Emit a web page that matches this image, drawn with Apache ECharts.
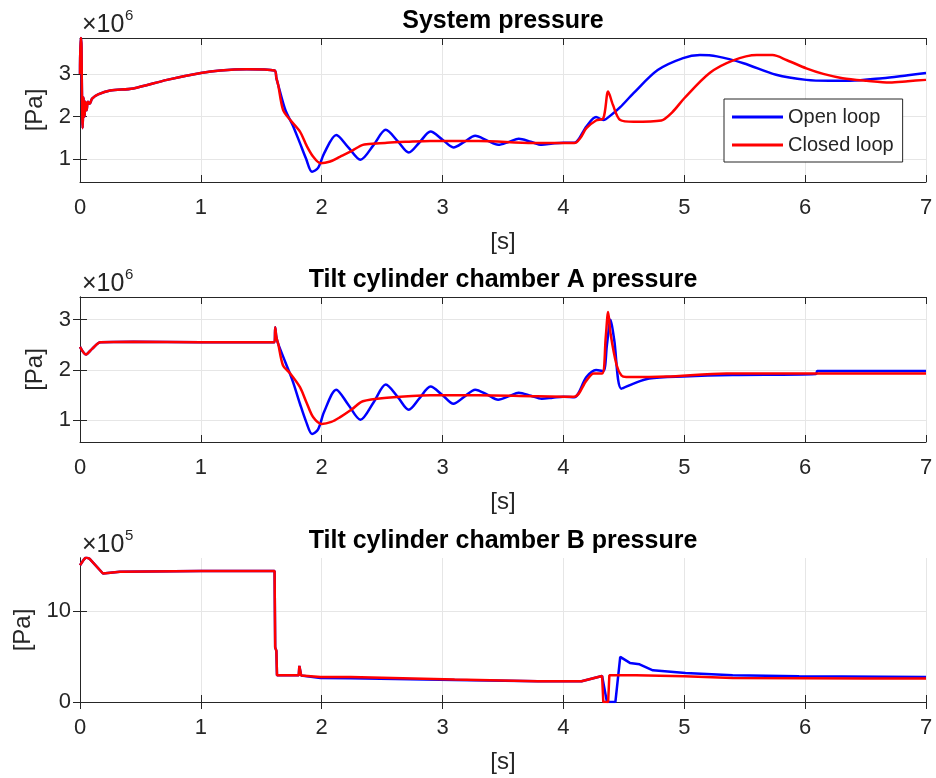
<!DOCTYPE html>
<html lang="en">
  <head>
    <meta charset="UTF-8" />
    <title>Open loop vs closed loop pressures</title>
    <script src="https://cdn.jsdelivr.net/npm/echarts@6.0.0/dist/echarts.min.js"></script>
    <style>
      html, body { margin: 0; padding: 0; background: #fff; }
    </style>
  </head>
  <body>
    <div id="main" style="width: 936px; height: 778px"></div>
    <script type="text/javascript">
      // values: time [s], pressure in units of the axis multiplier

      // System pressure (x10^6 Pa)
      const sysOpenT = [0, 0.004, 0.01, 0.016, 0.022, 0.03, 0.038, 0.045, 0.055, 0.065, 0.08, 0.1, 0.15, 0.25, 0.44, 0.72, 1.0, 1.16, 1.38, 1.61, 1.625, 1.64, 1.70, 1.76, 1.82, 1.87, 1.92, 1.97, 2.02, 2.12, 2.22, 2.32, 2.43, 2.53, 2.63, 2.72, 2.81, 2.90, 3.0, 3.09, 3.18, 3.27, 3.37, 3.46, 3.55, 3.63, 3.73, 3.82, 3.91, 4.0, 4.09, 4.19, 4.27, 4.33, 4.40, 4.47, 4.58, 4.78, 4.99, 5.13, 5.27, 5.49, 5.76, 6.01, 6.2, 6.37, 6.64, 6.85, 7.0];
      const sysOpenP = [3.0, 3.84, 3.84, 2.6, 1.73, 2.45, 2.0, 2.35, 2.15, 2.35, 2.3, 2.42, 2.52, 2.61, 2.66, 2.86, 3.02, 3.08, 3.11, 3.08, 2.9, 2.74, 2.15, 1.80, 1.38, 1.02, 0.71, 0.80, 1.14, 1.57, 1.28, 0.99, 1.34, 1.69, 1.42, 1.16, 1.40, 1.65, 1.46, 1.28, 1.41, 1.55, 1.44, 1.34, 1.41, 1.48, 1.41, 1.34, 1.37, 1.39, 1.39, 1.77, 1.99, 1.92, 2.05, 2.22, 2.55, 3.09, 3.37, 3.44, 3.41, 3.25, 2.98, 2.86, 2.84, 2.84, 2.90, 2.97, 3.02];
      const sysClosedT = [0, 0.004, 0.01, 0.016, 0.022, 0.03, 0.038, 0.045, 0.055, 0.065, 0.08, 0.1, 0.15, 0.25, 0.44, 0.72, 1.0, 1.16, 1.38, 1.61, 1.625, 1.64, 1.68, 1.74, 1.82, 1.875, 1.93, 1.99, 2.07, 2.15, 2.25, 2.34, 2.45, 2.54, 2.7, 2.9, 3.3, 3.75, 4.09, 4.14, 4.19, 4.27, 4.33, 4.37, 4.41, 4.47, 4.58, 4.81, 4.9, 5.0, 5.21, 5.4, 5.6, 5.73, 5.85, 6.01, 6.15, 6.31, 6.51, 6.7, 6.85, 7.0];
      const sysClosedP = [3.0, 3.84, 3.84, 2.6, 1.73, 2.45, 2.0, 2.35, 2.15, 2.35, 2.3, 2.42, 2.52, 2.61, 2.66, 2.86, 3.02, 3.08, 3.11, 3.08, 2.9, 2.74, 2.16, 1.92, 1.65, 1.32, 1.06, 0.91, 0.95, 1.06, 1.2, 1.34, 1.37, 1.39, 1.41, 1.43, 1.43, 1.38, 1.38, 1.5, 1.73, 1.91, 1.96, 2.59, 2.27, 1.92, 1.88, 1.91, 2.1, 2.43, 3.02, 3.31, 3.44, 3.44, 3.32, 3.13, 3.0, 2.90, 2.84, 2.80, 2.83, 2.86];

      // Tilt cylinder chamber A pressure (x10^6 Pa)
      const aOpenT = [0, 0.05, 0.1, 0.17, 0.44, 1.0, 1.61, 1.615, 1.625, 1.64, 1.70, 1.76, 1.82, 1.87, 1.92, 1.97, 2.02, 2.12, 2.22, 2.32, 2.43, 2.53, 2.63, 2.72, 2.81, 2.90, 3.0, 3.09, 3.18, 3.27, 3.37, 3.46, 3.55, 3.63, 3.73, 3.82, 3.91, 4.0, 4.09, 4.19, 4.27, 4.33, 4.36, 4.39, 4.42, 4.48, 4.58, 4.71, 4.99, 5.4, 6.09, 6.1, 7.0];
      const aOpenP = [2.46, 2.31, 2.42, 2.55, 2.56, 2.55, 2.55, 2.85, 2.65, 2.52, 2.15, 1.78, 1.33, 0.98, 0.73, 0.82, 1.17, 1.61, 1.31, 1.01, 1.36, 1.71, 1.46, 1.21, 1.44, 1.67, 1.50, 1.33, 1.47, 1.61, 1.51, 1.41, 1.48, 1.55, 1.49, 1.43, 1.45, 1.47, 1.46, 1.86, 2.0, 1.98, 2.5, 3.0, 2.6, 1.63, 1.73, 1.83, 1.87, 1.9, 1.92, 1.98, 1.98];
      const aClosedT = [0, 0.05, 0.1, 0.17, 0.44, 1.0, 1.61, 1.615, 1.625, 1.64, 1.68, 1.74, 1.82, 1.875, 1.93, 2.0, 2.08, 2.15, 2.25, 2.34, 2.54, 2.9, 3.3, 3.75, 4.09, 4.19, 4.25, 4.32, 4.35, 4.37, 4.39, 4.44, 4.48, 4.52, 4.85, 5.35, 7.0];
      const aClosedP = [2.46, 2.31, 2.42, 2.55, 2.56, 2.55, 2.55, 2.85, 2.65, 2.52, 2.09, 1.93, 1.66, 1.35, 1.06, 0.93, 0.97, 1.06, 1.22, 1.38, 1.45, 1.50, 1.50, 1.48, 1.47, 1.79, 1.93, 1.93, 2.65, 3.15, 2.72, 2.1, 1.89, 1.86, 1.87, 1.93, 1.93];

      // Tilt cylinder chamber B pressure (x10^5 Pa)
      const bOpenT = [0, 0.03, 0.05, 0.08, 0.19, 0.33, 1.0, 1.61, 1.615, 1.625, 1.63, 1.81, 1.815, 1.825, 1.83, 1.99, 2.24, 3.1, 3.79, 4.15, 4.32, 4.36, 4.43, 4.47, 4.55, 4.63, 4.74, 5.01, 5.4, 5.95, 7.0];
      const bOpenP = [15.0, 15.6, 15.9, 15.7, 14.1, 14.3, 14.36, 14.36, 6.0, 5.6, 2.93, 2.93, 3.96, 3.96, 2.9, 2.62, 2.6, 2.42, 2.27, 2.27, 2.86, 0, 0, 4.95, 4.29, 4.14, 3.48, 3.19, 2.93, 2.82, 2.75];
      const bClosedT = [0, 0.03, 0.05, 0.08, 0.19, 0.33, 1.0, 1.61, 1.615, 1.625, 1.63, 1.81, 1.815, 1.825, 1.83, 1.99, 2.24, 3.1, 3.79, 4.15, 4.32, 4.33, 4.37, 4.38, 4.6, 5.0, 5.4, 6.5, 7.0];
      const bClosedP = [15.0, 15.6, 15.9, 15.7, 14.1, 14.3, 14.36, 14.36, 6.0, 5.6, 2.93, 2.93, 3.96, 3.96, 2.9, 2.75, 2.75, 2.46, 2.27, 2.27, 2.86, 0, 0, 2.93, 2.93, 2.82, 2.64, 2.57, 2.57];

      // tick labels
      const sysTicks = [1, 2, 3];
      const aTicks = [1, 2, 3];
      const bTicks = [0, 10];

      const font = "'Liberation Sans', Arial, sans-serif";
      const axisCol = "#262626";
      const pair = (t, v) => t.map((x, i) => [x, v[i]]);

      const panels = [
        { title: "System pressure", top: 38, height: 144, min: 0.47, max: 3.84, ticks: sysTicks, exp: "6",
          open: pair(sysOpenT, sysOpenP), closed: pair(sysClosedT, sysClosedP), smooth: 0.3 },
        { title: "Tilt cylinder chamber A pressure", top: 297, height: 145, min: 0.57, max: 3.45, ticks: aTicks, exp: "6",
          open: pair(aOpenT, aOpenP), closed: pair(aClosedT, aClosedP), smooth: 0.3 },
        { title: "Tilt cylinder chamber B pressure", top: 558, height: 144, min: 0, max: 15.8, ticks: bTicks, exp: "5",
          open: pair(bOpenT, bOpenP), closed: pair(bClosedT, bClosedP), smooth: false },
      ];

      const grid = [], xAxis = [], yAxis = [], series = [], title = [], graphic = [];

      panels.forEach((p, i) => {
        grid.push({ left: 80, top: p.top, width: 846, height: p.height });
        title.push({
          text: p.title, left: 503, top: p.top - 29, textAlign: "center", padding: 0,
          textStyle: { fontFamily: font, fontSize: 25, fontWeight: "bold", color: "#000" },
        });

        const xBase = {
          type: "value", gridIndex: i, min: 0, max: 7, interval: 1,
          axisLine: { lineStyle: { color: axisCol, width: 1 } },
          axisTick: { inside: true, length: 7, lineStyle: { color: axisCol } },
          splitLine: { show: false },
        };
        xAxis.push(Object.assign({}, xBase, {
          position: "bottom",
          name: "[s]", nameLocation: "middle", nameGap: 48,
          nameTextStyle: { fontFamily: font, fontSize: 24, color: axisCol },
          axisLabel: { fontFamily: font, fontSize: 22, color: axisCol, margin: 15 },
          splitLine: { show: true, lineStyle: { color: "#e6e6e6", width: 1 } },
        }));
        xAxis.push(Object.assign({}, xBase, { position: "top", axisLabel: { show: false } }));

        const yBase = {
          type: "value", gridIndex: i, min: p.min, max: p.max,
          axisLine: { show: true, lineStyle: { color: axisCol, width: 1 } },
          axisTick: { show: true, inside: true, length: 7, customValues: p.ticks, lineStyle: { color: axisCol } },
          splitLine: { show: false },
        };
        yAxis.push(Object.assign({}, yBase, {
          position: "left",
          name: "[Pa]", nameLocation: "middle", nameGap: 23,
          nameTextStyle: { fontFamily: font, fontSize: 24, color: axisCol },
          axisLabel: { fontFamily: font, fontSize: 22, color: axisCol, margin: 9, customValues: p.ticks },
          splitLine: { show: true, lineStyle: { color: "#e6e6e6", width: 1 } },
        }));
        yAxis.push(Object.assign({}, yBase, { position: "right", axisLabel: { show: false } }));

        series.push({
          name: "Open loop", type: "line", xAxisIndex: 2 * i, yAxisIndex: 2 * i,
          data: p.open, symbol: "none", smooth: p.smooth, clip: true,
          lineStyle: { color: "#0000ff", width: 2.5 }, itemStyle: { color: "#0000ff" },
        });
        series.push({
          name: "Closed loop", type: "line", xAxisIndex: 2 * i, yAxisIndex: 2 * i,
          data: p.closed, symbol: "none", smooth: p.smooth, clip: true,
          lineStyle: { color: "#ff0000", width: 2.5 }, itemStyle: { color: "#ff0000" },
        });

        // axis multiplier, e.g. x10^6
        graphic.push({
          type: "text", x: 82, y: p.top - 12.5,
          style: { text: "\u00d710", fontFamily: font, fontSize: 25, fill: axisCol, textVerticalAlign: "middle", verticalAlign: "middle" },
        });
        graphic.push({
          type: "text", x: 125, y: p.top - 22,
          style: { text: p.exp, fontFamily: font, fontSize: 15, fill: axisCol, textVerticalAlign: "middle", verticalAlign: "middle" },
        });
      });

      const myChart = echarts.init(document.getElementById("main"));
      myChart.setOption({
        animation: false,
        backgroundColor: "#fff",
        title: title,
        grid: grid,
        xAxis: xAxis,
        yAxis: yAxis,
        series: series,
        graphic: graphic,
        legend: {
          data: ["Open loop", "Closed loop"],
          orient: "vertical",
          left: 724, top: 99,
          padding: [8, 9, 7, 8],
          itemGap: 8,
          itemWidth: 51, itemHeight: 3,
          icon: "rect",
          backgroundColor: "#fff",
          borderColor: axisCol, borderWidth: 1,
          textStyle: { fontFamily: font, fontSize: 20, color: axisCol, lineHeight: 20 },
        },
      });
    </script>
  </body>
</html>
